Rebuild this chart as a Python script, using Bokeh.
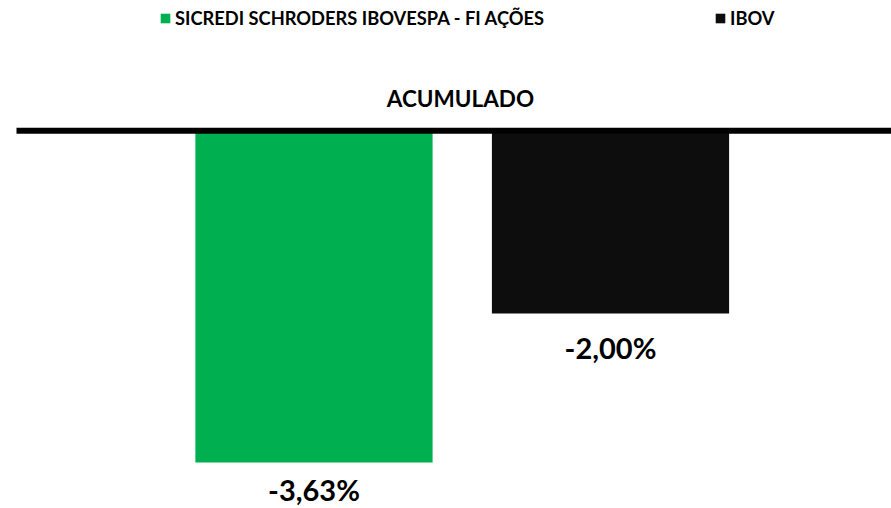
from bokeh.plotting import figure
from bokeh.models import ColumnDataSource, Label, Legend, LegendItem, Range1d
from bokeh.core.properties import value
from bokeh.embed import file_html
from bokeh.resources import INLINE

# ---- data ----
series = ["SICREDI SCHRODERS IBOVESPA - FI AÇÕES", "IBOV"]
values = [-3.63, -2.00]
labels = ["-3,63%", "-2,00%"]
colors = ["#00B050", "#0D0D0D"]
title_text = "ACUMULADO"

FONT = "Lato"
W, H = 891, 508
X0, X1 = -1.0573, 1.9477
Y0, Y1 = -4.1335, 1.4245
PX_X = W / (X1 - X0)
PX_Y = H / (Y1 - Y0)

p = figure(width=W, height=H, output_backend="svg", toolbar_location=None,
           x_axis_location=None, y_axis_location=None, min_border=0,
           x_range=Range1d(X0, X1), y_range=Range1d(Y0, Y1))
p.grid.visible = False
p.outline_line_color = None
p.background_fill_color = "white"
p.border_fill_color = "white"

xs = list(range(len(values)))
# label below each bar, kept inside the canvas
ly = [max(v - 0.37, Y0 + 19 / PX_Y) for v in values]
src = ColumnDataSource(dict(x=xs, label=labels, ly=ly))

bars = []
for i in xs:
    r = p.vbar(x=[xs[i]], top=[0], bottom=[values[i]], width=0.8,
               fill_color=colors[i], line_color=None)
    bars.append(r)

# baseline (zero line)
p.segment(x0=[X0 + 16 / PX_X], x1=[X1], y0=[0], y1=[0],
          line_color="black", line_width=6)

p.text(x="x", y="ly", text="label", source=src, text_align="center",
       text_baseline="middle", text_font=value(FONT), text_font_style="bold",
       text_font_size="29px", text_color="black")

p.add_layout(Label(x=460, y=H - 98, x_units="screen", y_units="screen",
                   text=title_text, text_align="center", text_baseline="middle",
                   text_font=FONT, text_font_style="bold", text_font_size="22.5px",
                   text_color="black"))

leg_x = [159, 714]
for i in xs:
    lg = Legend(items=[LegendItem(label=series[i], renderers=[bars[i]])],
                location=(leg_x[i], H - 29), orientation="horizontal",
                glyph_width=12, glyph_height=12, label_standoff=4,
                padding=0, margin=0, spacing=0, label_height=12,
                label_text_font=FONT, label_text_font_style="bold",
                label_text_font_size="18.3px", label_text_color="black",
                background_fill_alpha=0, border_line_color=None)
    p.add_layout(lg, "center")

open("out.html", "w").write(file_html(p, INLINE))
